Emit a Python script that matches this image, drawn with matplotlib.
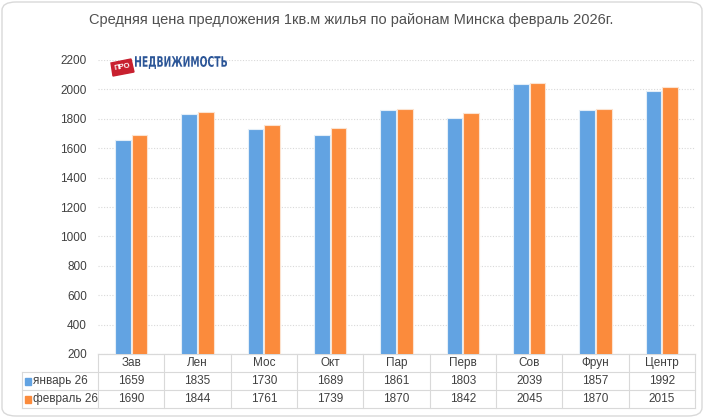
import numpy as np
import matplotlib.pyplot as plt
from matplotlib.patches import FancyBboxPatch, Rectangle, Polygon, PathPatch
from matplotlib.lines import Line2D
from matplotlib.textpath import TextPath
from matplotlib.font_manager import FontProperties
import matplotlib.transforms as mtransforms

plt.rcParams['font.family'] = ['Liberation Sans', 'DejaVu Sans']

districts = ['Зав', 'Лен', 'Мос', 'Окт', 'Пар', 'Перв', 'Сов', 'Фрун', 'Центр']
jan26 = [1659, 1835, 1730, 1689, 1861, 1803, 2039, 1857, 1992]
feb26 = [1690, 1844, 1761, 1739, 1870, 1842, 2045, 1870, 2015]
series_names = ['январь 26', 'февраль 26']
yticks = [200, 400, 600, 800, 1000, 1200, 1400, 1600, 1800, 2000, 2200]

c_jan = '#62A3E2'
c_feb = '#FB8B3C'
grid_c = '#D9D9D9'
txt_c = '#404040'

W, H = 704, 418
fig = plt.figure(figsize=(W / 100, H / 100), dpi=100)
ax = fig.add_axes([98 / W, 1 - 354 / H, (695 - 98) / W, (354 - 60) / H])

x = np.arange(len(districts))
bw = 0.235
ax.bar(x - 0.125, jan26, bw, color=c_jan, edgecolor='#E3EEF8', linewidth=0.8, zorder=3)
ax.bar(x + 0.125, feb26, bw, color=c_feb, edgecolor='#FCE3D0', linewidth=0.8, zorder=3)

ax.set_xlim(-0.5, len(districts) - 0.5)
ax.set_ylim(200, 2200)
ax.set_yticks(yticks)
ax.set_yticklabels([str(v) for v in yticks], fontsize=8.5, color=txt_c)
ax.tick_params(axis='y', length=0, pad=8)
ax.set_xticks([])
ax.yaxis.grid(True, color=grid_c, linestyle=(0, (1, 1.5)), linewidth=0.8, zorder=0)
for s in ['top', 'right', 'left']:
    ax.spines[s].set_visible(False)
ax.spines['bottom'].set_color(grid_c)

# data table under the plot
px = 1 / 294.0  # one pixel in axes y units
row_h = 18 * px
left_x = -0.5 - 76 / 66.3
tr = mtransforms.blended_transform_factory(ax.transData, ax.transAxes)

def hline(x0, x1, y):
    ax.add_line(Line2D([x0, x1], [y, y], transform=tr, color=grid_c, lw=0.8, clip_on=False))

def vline(xx, y0, y1):
    ax.add_line(Line2D([xx, xx], [y0, y1], transform=tr, color=grid_c, lw=0.8, clip_on=False))

hline(-0.5, 8.5, 0)
for k in (1, 2, 3):
    hline(left_x, 8.5, -k * row_h)
vline(left_x, -row_h, -3 * row_h)
for b in np.arange(-0.5, len(districts)):
    vline(b, 0, -3 * row_h)

for i, name in enumerate(districts):
    ax.text(i, -0.5 * row_h, name, transform=tr, ha='center', va='center', fontsize=8.5, color=txt_c)
    ax.text(i, -1.5 * row_h, str(jan26[i]), transform=tr, ha='center', va='center', fontsize=8.5, color=txt_c)
    ax.text(i, -2.5 * row_h, str(feb26[i]), transform=tr, ha='center', va='center', fontsize=8.5, color=txt_c)

for k, (name, col) in enumerate(zip(series_names, [c_jan, c_feb])):
    yc = -(1.5 + k) * row_h
    ax.add_patch(Rectangle((left_x + 0.04, yc - 3.5 * px), 0.1, 7 * px, transform=tr,
                           color=col, clip_on=False))
    ax.text(left_x + 0.16, yc, name, transform=tr, ha='left', va='center', fontsize=8.5, color=txt_c)

# title
fig.text(351 / W, 1 - 20 / H, 'Средняя цена предложения 1кв.м жилья по районам Минска февраль 2026г.',
         ha='center', va='center', fontsize=10.5, color='#505050')

# logo: red badge + condensed bold word
fig.patches.append(Polygon([[111 / W, 1 - 63 / H], [131 / W, 1 - 59 / H], [134 / W, 1 - 72 / H], [113 / W, 1 - 76 / H]],
                           closed=True, transform=fig.transFigure, color='#C8202F', zorder=5))
fig.text(122.5 / W, 1 - 67.5 / H, 'ПРО', ha='center', va='center', fontsize=5.5, color='white',
         fontweight='bold', rotation=10, zorder=6)
tp = TextPath((0, 0), 'НЕДВИЖИМОСТЬ', size=10, prop=FontProperties(family='DejaVu Sans', weight='bold'))
ext = tp.get_extents()
x0, x1, ytop, ybot = 135, 227, 56, 69
logo_tr = (mtransforms.Affine2D()
           .translate(-ext.x0, -ext.y0)
           .scale((x1 - x0) / ext.width / W, (ybot - ytop) / ext.height / H)
           .translate(x0 / W, 1 - ybot / H)) + fig.transFigure
fig.patches.append(PathPatch(tp, transform=logo_tr, color='#2B5597', lw=0, zorder=6))

# chart border
fig.patches.append(FancyBboxPatch((2 / W, 2 / H), 700 / W, 414 / H, boxstyle='round,pad=0,rounding_size=0.02',
                                  transform=fig.transFigure, fill=False, edgecolor='#D9D9D9', lw=1.0))

fig.savefig('out.png', dpi=100)
